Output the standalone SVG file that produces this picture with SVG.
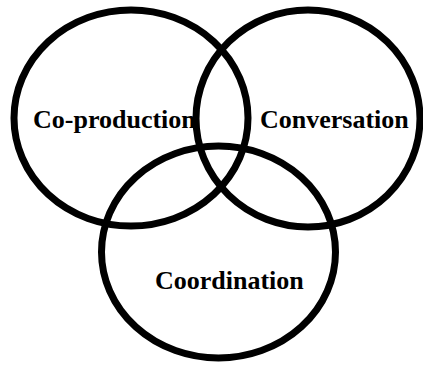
<svg xmlns="http://www.w3.org/2000/svg" width="423" height="365" viewBox="0 0 423 365">
<style>
.lbl{font-family:"Liberation Serif","Times New Roman",serif;font-weight:bold;font-size:26px;fill:#000}
.ring{fill:none;stroke:#000;stroke-width:7}
</style>
<rect width="423" height="365" fill="#fff"/>
<g id="coproduction"><text class="lbl" x="33" y="128">Co-production</text><ellipse class="ring" cx="131" cy="118" rx="117" ry="108"/></g>
<g id="conversation"><text class="lbl" x="260" y="128">Conversation</text><ellipse class="ring" cx="308" cy="118.5" rx="112" ry="108.5"/></g>
<g id="coordination"><text class="lbl" x="155" y="289">Coordination</text><ellipse class="ring" cx="218.5" cy="252" rx="117" ry="106"/></g>
<g id="connectors"/>
</svg>
